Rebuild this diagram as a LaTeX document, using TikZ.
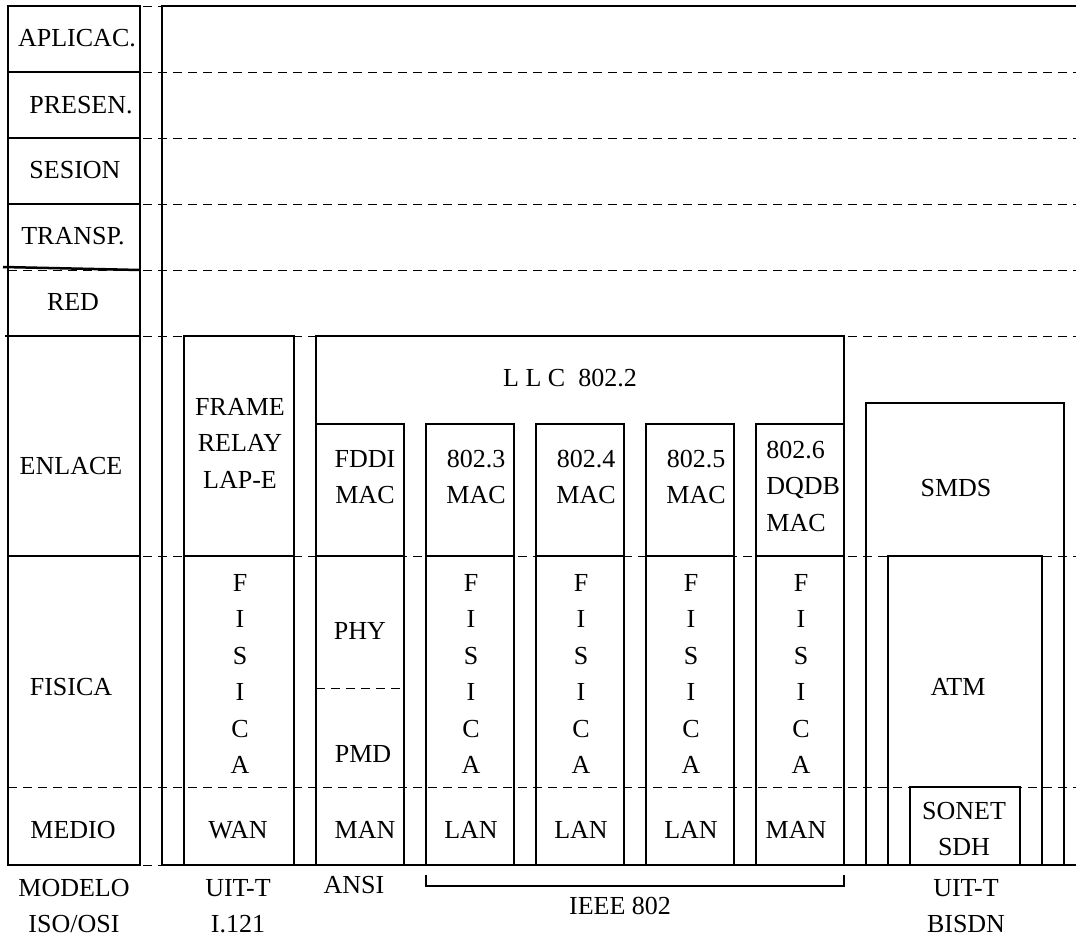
\documentclass[tikz,border=0pt]{standalone}
\usepackage{fontspec}
\setmainfont{Liberation Serif}
\tikzset{
  layerline/.style={line width=1.25pt},
  levelcut/.style={line width=0.5pt, dash pattern=on 4.5pt off 3pt},
  bracketline/.style={line width=0.6pt},
  layertxt/.style={inner sep=0pt, align=center, font=\fontsize{13}{18.25}\selectfont},
  stacktxt/.style={layertxt, anchor=west, align=left}
}

\begin{document}
\begin{tikzpicture}[x=0.5pt, y=-0.5pt]
  \useasboundingbox (0,0) rectangle (1076,937);

  % level cuts behind everything
  \foreach \yy in {6,72,138,204,270,336,556,787,865}
    \draw[levelcut] (8,\yy) -- (1076,\yy);
  \draw[levelcut] (316,688) -- (404,688);

  % OSI column
  \draw[layerline] (8,6) rectangle (140,865);
  \foreach \yy in {72,138,204,556}
    \draw[layerline] (8,\yy) -- (140,\yy);
  \draw[layerline] (3,267) -- (140,270);
  \draw[layerline] (5,336) -- (140,336);

  % main frame
  \draw[layerline] (1076,6) -- (162,6) -- (162,865) -- (1076,865);

  % frame relay
  \draw[layerline] (184,336) rectangle (294,865);
  \draw[layerline] (184,556) -- (294,556);

  % LLC and MAC columns
  \draw[layerline] (316,865) -- (316,336) -- (844,336) -- (844,865);
  \foreach \xa/\xb in {316/404, 426/514, 536/624, 646/734, 756/844} {
    \draw[layerline] (\xa,424) rectangle (\xb,865);
    \draw[layerline] (\xa,556) -- (\xb,556);
  }

  % BISDN stack
  \draw[layerline] (866,403) rectangle (1064,865);
  \draw[layerline] (888,556) rectangle (1042,865);
  \draw[layerline] (910,787) rectangle (1020,865);

  % IEEE bracket
  \coordinate (brl) at (426,875);
  \coordinate (brr) at (844,875);
  \draw[bracketline] (brl) -- ++(0,11) -| (brr);

  % OSI labels
  \node[layertxt] (aplic) at (77,38) {APLICAC.};
  \node[layertxt] (presen) at (81,105) {PRESEN.};
  \node[layertxt] (sesion) at (75,170) {SESION};
  \node[layertxt] (transp) at (73,236) {TRANSP.};
  \node[layertxt] (red) at (73,302) {RED};
  \node[layertxt] (enlace) at (71,466) {ENLACE};
  \node[layertxt] (fisica) at (71,687) {FISICA};
  \node[layertxt] (medio) at (73,830) {MEDIO};

  % column contents
  \node[layertxt] (frelay) at (240,443) {FRAME\\RELAY\\LAP-E};
  \node[layertxt] (llc) at (570,378) {L L C\ \ 802.2};
  \node[layertxt] (fddi) at (365,477) {FDDI\\MAC};
  \node[layertxt] (mac3) at (476,477) {802.3\\MAC};
  \node[layertxt] (mac4) at (586,477) {802.4\\MAC};
  \node[layertxt] (mac5) at (696,477) {802.5\\MAC};
  \node[stacktxt] (mac6) at (766,486) {802.6\\DQDB\\MAC};
  \node[layertxt] (smds) at (956,488) {SMDS};

  \node[layertxt] (fiswan) at (240,674) {F\\I\\S\\I\\C\\A};
  \node[layertxt] (phy) at (360,631) {PHY};
  \node[layertxt] (pmd) at (363,754) {PMD};
  \node[layertxt] (fis3) at (471,674) {F\\I\\S\\I\\C\\A};
  \node[layertxt] (fis4) at (581,674) {F\\I\\S\\I\\C\\A};
  \node[layertxt] (fis5) at (691,674) {F\\I\\S\\I\\C\\A};
  \node[layertxt] (fis6) at (801,674) {F\\I\\S\\I\\C\\A};
  \node[layertxt] (atm) at (958,687) {ATM};

  \node[layertxt] (wan) at (238,830) {WAN};
  \node[layertxt] (man1) at (365,830) {MAN};
  \node[layertxt] (lan3) at (471,830) {LAN};
  \node[layertxt] (lan4) at (581,830) {LAN};
  \node[layertxt] (lan5) at (691,830) {LAN};
  \node[layertxt] (man6) at (796,830) {MAN};
  \node[layertxt] (sonet) at (964,829) {SONET\\SDH};

  % bodies below
  \node[layertxt] (modelo) at (74,906) {MODELO\\ISO/OSI};
  \node[layertxt] (uiti) at (238,906) {UIT-T\\I.121};
  \node[layertxt] (ansi) at (354,885) {ANSI};
  \node[layertxt] (ieee) at (620,906) {IEEE 802};
  \node[layertxt] (uitb) at (966,906) {UIT-T\\BISDN};
\end{tikzpicture}
\end{document}
